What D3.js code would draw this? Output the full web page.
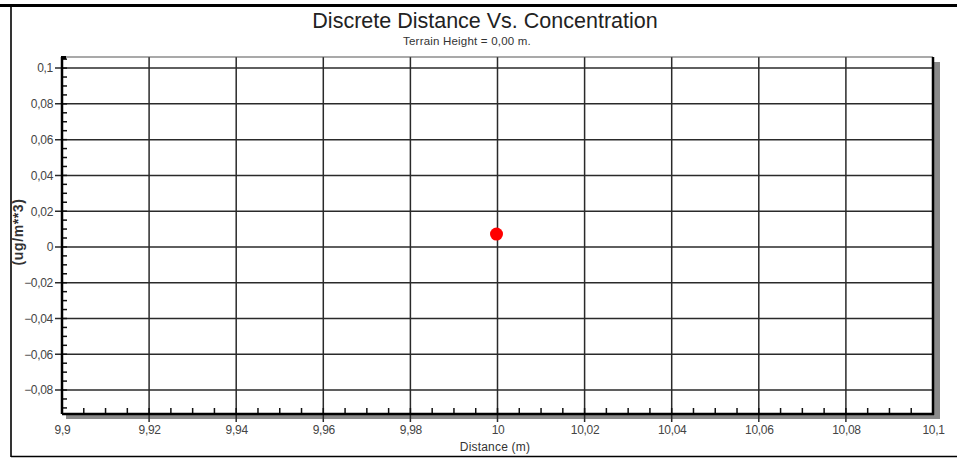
<!DOCTYPE html>
<html>
<head>
<meta charset="utf-8">
<script src="https://cdn.jsdelivr.net/npm/d3@7"></script>
<style>
  body { margin: 0; background: #fff; }
  svg { display: block; font-family: "Liberation Sans", Arial, sans-serif; }
</style>
</head>
<body>
<div id="chart"></div>
<script>
var xTicks = [9.9, 9.92, 9.94, 9.96, 9.98, 10, 10.02, 10.04, 10.06, 10.08, 10.1];
var yTicks = [-0.08, -0.06, -0.04, -0.02, 0, 0.02, 0.04, 0.06, 0.08, 0.1];
var distance = [10.0];
var concentration = [0.0072];

var width = 957;
var height = 458;

var locale = d3.formatLocale({ decimal: ",", thousands: ".", grouping: [3], currency: ["", ""] });
var fmt = locale.format("~g");

var svg = d3.select('#chart')
  .append('svg')
    .attr('width', width)
    .attr('height', height);

var x = d3.scaleLinear().domain([9.9, 10.1]).range([62, 933]);
var y = d3.scaleLinear().domain([-0.0934, 0.1062]).range([414, 57]);

// outer frame
svg.append('line').attr('x1', 0).attr('x2', width).attr('y1', 5.5).attr('y2', 5.5)
    .attr('stroke', '#000').attr('stroke-width', 3);
svg.append('line').attr('x1', 11).attr('x2', 11).attr('y1', 5).attr('y2', 457)
    .attr('stroke', '#000').attr('stroke-width', 1.6);
svg.append('line').attr('x1', 11).attr('x2', width).attr('y1', 456.5).attr('y2', 456.5)
    .attr('stroke', '#000').attr('stroke-width', 1.6);

// titles
svg.append('text')
    .attr('x', 485).attr('y', 28)
    .attr('text-anchor', 'middle')
    .attr('font-size', 21.5)
    .attr('fill', '#222')
    .text('Discrete Distance Vs. Concentration');
svg.append('text')
    .attr('x', 467).attr('y', 45)
    .attr('text-anchor', 'middle')
    .attr('font-size', 11.5)
    .attr('letter-spacing', 0.2)
    .attr('fill', '#333')
    .text('Terrain Height = 0,00 m.');

// shadow of the plot frame
svg.append('rect')
    .attr('x', x.range()[1]).attr('y', y.range()[1] + 5)
    .attr('width', 7).attr('height', y.range()[0] - y.range()[1])
    .attr('fill', '#8a8a8a');
svg.append('rect')
    .attr('x', x.range()[0] + 4).attr('y', y.range()[0])
    .attr('width', x.range()[1] - x.range()[0] + 3).attr('height', 5)
    .attr('fill', '#8a8a8a');

// plot background
svg.append('rect')
    .attr('x', x.range()[0]).attr('y', y.range()[1])
    .attr('width', x.range()[1] - x.range()[0]).attr('height', y.range()[0] - y.range()[1])
    .attr('fill', '#fff');

// grid
var grid = svg.append('g').attr('stroke', '#2a2a2a').attr('stroke-width', 1.5);
grid.selectAll('.vg')
  .data(xTicks.slice(1, -1))
  .enter()
  .append('line')
    .attr('x1', d => x(d)).attr('x2', d => x(d))
    .attr('y1', y.range()[1]).attr('y2', y.range()[0] + 8);
grid.selectAll('.hg')
  .data(yTicks)
  .enter()
  .append('line')
    .attr('x1', x.range()[0] - 7).attr('x2', x.range()[1])
    .attr('y1', d => y(d)).attr('y2', d => y(d));

// top frame line
svg.append('line')
    .attr('x1', x.range()[0]).attr('x2', x.range()[1])
    .attr('y1', y.range()[1]).attr('y2', y.range()[1])
    .attr('stroke', '#555').attr('stroke-width', 1.2);

// minor ticks
var xMinor = d3.range(0, 41).map(i => 9.9 + i * 0.005);
svg.append('g').attr('stroke', '#111').attr('stroke-width', 1.5)
  .selectAll('line')
  .data(xMinor)
  .enter()
  .append('line')
    .attr('x1', d => x(d)).attr('x2', d => x(d))
    .attr('y1', y.range()[0]).attr('y2', y.range()[0] - 6);
var yMinor = d3.range(0, 40).map(i => -0.09 + i * 0.005).filter(d => d <= 0.106);
svg.append('g').attr('stroke', '#111').attr('stroke-width', 1.5)
  .selectAll('line')
  .data(yMinor)
  .enter()
  .append('line')
    .attr('x1', x.range()[0]).attr('x2', x.range()[0] + 5)
    .attr('y1', d => y(d)).attr('y2', d => y(d));

// axes
var xAxis = d3.axisBottom(x).tickValues(xTicks).tickFormat(fmt).tickSize(0).tickPadding(11);
var gx = svg.append('g').attr('transform', `translate(0,${y.range()[0]})`).call(xAxis);
gx.select('.domain').remove();
gx.attr('font-size', 12);
gx.selectAll('text').attr('font-size', 12).attr('fill', '#444').attr('letter-spacing', -0.3)
    .attr('font-family', '"Liberation Sans", Arial, sans-serif');

var yAxis = d3.axisLeft(y).tickValues(yTicks).tickFormat(fmt).tickSize(0).tickPadding(9);
var gy = svg.append('g').attr('transform', `translate(${x.range()[0]},0)`).call(yAxis);
gy.select('.domain').remove();
gy.attr('font-size', 12);
gy.selectAll('text').attr('font-size', 12).attr('fill', '#444').attr('letter-spacing', -0.3)
    .attr('font-family', '"Liberation Sans", Arial, sans-serif');

// axis lines
svg.append('line')
    .attr('x1', x.range()[0]).attr('x2', x.range()[1] + 1)
    .attr('y1', y.range()[0]).attr('y2', y.range()[0])
    .attr('stroke', '#000').attr('stroke-width', 2.5);
svg.append('line')
    .attr('x1', x.range()[0]).attr('x2', x.range()[0])
    .attr('y1', y.range()[1]).attr('y2', y.range()[0])
    .attr('stroke', '#000').attr('stroke-width', 2.5);
svg.append('line')
    .attr('x1', x.range()[1]).attr('x2', x.range()[1])
    .attr('y1', y.range()[1]).attr('y2', y.range()[0] + 1)
    .attr('stroke', '#000').attr('stroke-width', 2.5);
svg.append('rect')
    .attr('x', x.range()[0] - 1).attr('y', y.range()[1] - 1)
    .attr('width', 5).attr('height', 3).attr('fill', '#000');

// axis titles
svg.append('text')
    .attr('x', 495).attr('y', 451)
    .attr('text-anchor', 'middle')
    .attr('font-size', 12)
    .attr('letter-spacing', 0.2)
    .attr('fill', '#333')
    .text('Distance (m)');
svg.append('text')
    .attr('transform', 'translate(23,232) rotate(-90)')
    .attr('text-anchor', 'middle')
    .attr('font-size', 14)
    .attr('font-weight', 'bold')
    .attr('letter-spacing', 0.6)
    .attr('fill', '#333')
    .text('(ug/m**3)');

// data
svg.append('g')
  .selectAll('circle')
  .data(distance.map((d, i) => ({ d: d, c: concentration[i] })))
  .enter()
  .append('circle')
    .attr('cx', p => x(p.d) - 1)
    .attr('cy', p => y(p.c))
    .attr('r', 6.5)
    .attr('fill', '#ff0000');
</script>
</body>
</html>
